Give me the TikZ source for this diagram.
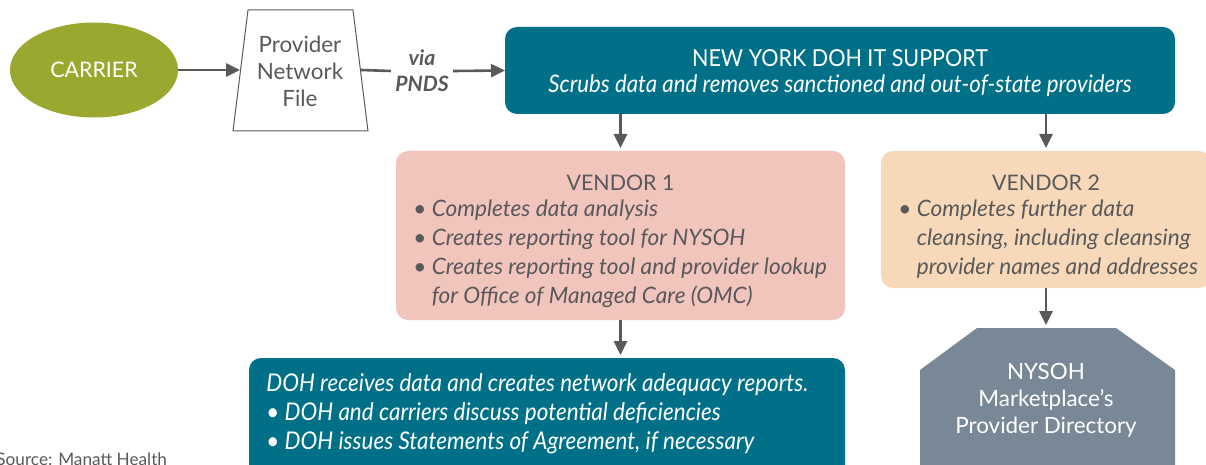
\documentclass[tikz,border=0pt]{standalone}
\usepackage{fontspec}
\setmainfont{Lato}
\newfontfamily\condfont[FakeStretch=0.92]{Lato}
\usetikzlibrary{arrows.meta,shapes.geometric}
\definecolor{carriergreen}{RGB}{155,168,47}
\definecolor{dohteal}{RGB}{0,112,136}
\definecolor{vendorpink}{RGB}{241,196,188}
\definecolor{vendorpeach}{RGB}{247,217,186}
\definecolor{dirslate}{RGB}{120,136,150}
\definecolor{darkgray}{RGB}{88,89,91}
\begin{document}
\begin{tikzpicture}[x=0.5pt,y=-0.5pt,
  arr/.style={line width=1.3pt,draw=darkgray,-{Triangle[width=6.5pt,length=7pt]}},
  box/.style={rounded corners=6pt,inner sep=0pt,outer sep=0pt},
  bodytext/.style={text=darkgray,font=\fontsize{11.3}{14.6}\selectfont\itshape,align=left,inner sep=0pt},
  headtext/.style={text=darkgray,font=\fontsize{10.7}{12}\selectfont,inner sep=0pt}]
\useasboundingbox (0,0) rectangle (1206,465);
% top row
\node [ellipse,fill=carriergreen,minimum width=84pt,minimum height=47.5pt,inner sep=0pt,
  text=white,font=\fontsize{10.7}{12}\selectfont] (carrier) at (94,70) {CARRIER};
\draw [line width=0.5pt,draw=darkgray] (248,10) -- (353,10) -- (368,131) -- (233,131) -- cycle;
\node [text=darkgray,align=center,font=\fontsize{11.2}{13.5}\selectfont,inner sep=0pt] (file) at (300,71) {Provider\\Network\\File};
\coordinate (fileleft) at (240,70);
\coordinate (fileright) at (361,70);
\node [text=darkgray,align=center,font=\fontsize{10.6}{13}\selectfont\bfseries\itshape,inner sep=2pt] (via) at (422,71) {via\\PNDS};
\node [box,fill=dohteal,minimum width=335pt,minimum height=43.5pt] (nydoh) at (840,70.5) {};
\node [text=white,font=\condfont\fontsize{11.7}{12}\selectfont,inner sep=0pt] (nydohtitle) at (840,58) {NEW YORK DOH IT SUPPORT};
\node [text=white,font=\condfont\fontsize{12.1}{12}\selectfont\itshape,inner sep=0pt] (nydohtext) at (840,86) {Scrubs data and removes sanctioned and out-of-state providers};
\draw [arr] (carrier) -- (fileleft);
\draw [line width=1.3pt,draw=darkgray] (fileright) -- (via.west);
\draw [arr] (via.east) -- (nydoh.west);
% vendors
\node [box,fill=vendorpink,minimum width=224.5pt,minimum height=84.5pt] (vendor1) at (620.5,235.5) {};
\node [headtext] (v1title) at (620.5,183) {VENDOR 1};
\node [bodytext,anchor=north west] (v1list) at (413,199) {• Completes data analysis\\• Creates reporting tool for NYSOH\\• Creates reporting tool and provider lookup\\\phantom{• }for Office of Managed Care (OMC)};
\node [box,fill=vendorpeach,minimum width=165pt,minimum height=68.5pt] (vendor2) at (1046,219.5) {};
\node [headtext] (v2title) at (1046,183) {VENDOR 2};
\node [bodytext,anchor=north west] (v2list) at (898,199) {• Completes further data\\\phantom{• }cleansing, including cleansing\\\phantom{• }provider names and addresses};
\draw [arr] (nydoh.south -| vendor1.north) -- ([yshift=1.5pt]vendor1.north);
\draw [arr] (nydoh.south -| vendor2.north) -- ([yshift=1.5pt]vendor2.north);
% bottom row
\node [box,fill=dohteal,minimum width=298pt,minimum height=66pt] (doh) at (547,424) {};
\node [text=white,font=\condfont\fontsize{12.2}{14.6}\selectfont\itshape,align=left,inner sep=0pt,anchor=north west] (dohtext) at (266,373) {DOH receives data and creates network adequacy reports.\\• DOH and carriers discuss potential deficiencies\\• DOH issues Statements of Agreement, if necessary};
\draw [arr] (vendor1.south) -- ([yshift=1.5pt]vendor1.south |- doh.north);
\fill [dirslate] (977,328) -- (1116,328) -- (1175,370) -- (1175,480) -- (920,480) -- (920,370) -- cycle;
\coordinate (nysohtop) at (1046,328);
\node [text=white,align=center,font=\fontsize{11.2}{13.5}\selectfont,inner sep=0pt] (nysoh) at (1046,400) {NYSOH\\Marketplace’s\\Provider Directory};
\draw [arr] (vendor2.south) -- ([yshift=1.5pt]nysohtop);
\node [text=darkgray,font=\fontsize{8.6}{10}\selectfont,inner sep=0pt,anchor=north west] (source) at (-4,452) {Source: Manatt Health};
\end{tikzpicture}
\end{document}
